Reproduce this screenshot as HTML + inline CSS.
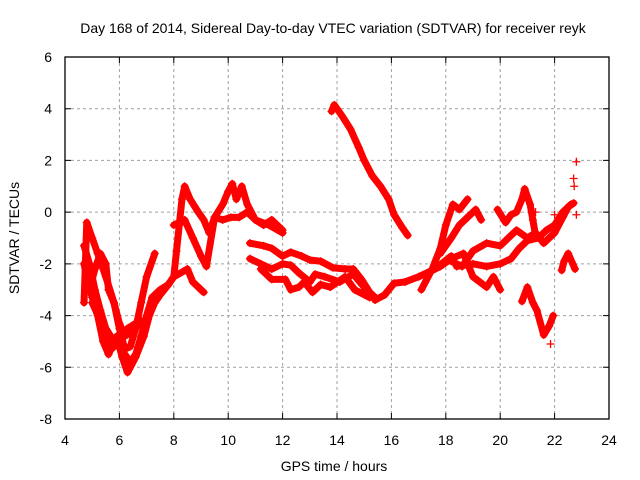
<!DOCTYPE html>
<html><head><meta charset="utf-8"><style>
html,body{margin:0;padding:0;background:#fff;}
svg{display:block;font-family:"Liberation Sans",sans-serif;}
</style></head><body>
<svg id="chart" width="640" height="480" viewBox="0 0 640 480">
<rect x="0" y="0" width="640" height="480" fill="#fff"/>
<text x="333" y="33" font-size="14" text-anchor="middle" fill="#000">Day 168 of 2014, Sidereal Day-to-day VTEC variation (SDTVAR) for receiver reyk</text>
<text x="334" y="471" font-size="14" text-anchor="middle" fill="#000">GPS time / hours</text>
<text transform="translate(19,238) rotate(-90)" font-size="14" text-anchor="middle" fill="#000">SDTVAR / TECUs</text>
<g id="grid"></g>
<g id="ticks"></g>
<g id="series"></g>
<rect x="65" y="57" width="544" height="362" fill="none" stroke="#000" stroke-width="1.3"/>
</svg>
<script>
const xTicks = [4,6,8,10,12,14,16,18,20,22,24];
const yTicks = [-8,-6,-4,-2,0,2,4,6];
const trackA = [[4.7,-1.3],[4.9,-2.0],[5.1,-3.0],[5.3,-3.8],[5.5,-4.5],[5.8,-5.0],[6.0,-5.2],[6.2,-5.5],[6.4,-5.8],[6.6,-5.5],[6.8,-4.8],[7.0,-4.0],[7.2,-3.3],[7.5,-3.0],[7.8,-2.8],[8.0,-2.5],[8.5,-2.2],[8.7,-2.7],[9.1,-3.1]];
const trackB = [[4.7,-3.5],[4.8,-0.4],[5.0,-1.0],[5.2,-1.6],[5.5,-2.5],[5.8,-3.5],[6.0,-4.5],[6.2,-5.3],[6.4,-5.2],[6.6,-4.5],[6.8,-3.5],[7.0,-2.5],[7.3,-1.6]];
const trackC = [[4.8,-2.5],[5.0,-3.3],[5.2,-4.0],[5.4,-5.0],[5.6,-5.5],[5.9,-4.8],[6.1,-5.6],[6.3,-6.2],[6.6,-5.6],[6.9,-4.8],[7.1,-4.0],[7.3,-3.5],[7.5,-3.2],[7.8,-2.8],[8.0,-2.5],[8.1,-1.5],[8.2,-0.5],[8.3,0.5],[8.4,1.0],[8.6,0.5],[8.9,0.0],[9.1,-0.3],[9.3,-0.8],[9.5,-0.2],[9.8,0.3],[10.0,0.8],[10.15,1.1],[10.3,0.5],[10.5,1.0],[10.7,0.3],[11.0,-0.3],[11.5,-0.5],[12.0,-0.8]];
const trackD = [[8.0,-0.5],[8.4,-0.3],[8.7,-1.0],[9.0,-1.7],[9.2,-2.1],[9.5,-0.2],[9.8,-0.3],[10.1,-0.2],[10.4,-0.2],[10.7,0.0],[11.0,-0.3],[11.3,-0.5],[11.6,-0.3],[12.0,-0.7]];
const trackE = [[4.7,-2.0],[4.9,-3.0],[5.1,-2.2],[5.3,-1.6],[5.5,-2.0],[5.6,-3.0],[5.8,-3.5],[6.0,-4.3],[6.2,-4.8],[6.5,-4.6],[6.8,-4.2]];
const trackF = [[5.0,-3.5],[5.3,-4.2],[5.5,-4.8],[5.7,-5.3],[6.0,-5.0],[6.3,-4.5],[6.6,-4.3]];
const bandTop = [[10.8,-1.2],[11.3,-1.3],[11.6,-1.4],[12.0,-1.7],[12.3,-1.55],[12.7,-1.7],[13.0,-1.85],[13.4,-1.9],[13.85,-2.15],[14.3,-2.2],[14.6,-2.2],[14.9,-2.6],[15.2,-3.1],[15.4,-3.4],[15.75,-3.2],[16.1,-2.75],[16.5,-2.7],[17.0,-2.5],[17.6,-2.2],[18.2,-1.7]];
const bandMid = [[10.8,-1.8],[11.2,-2.0],[11.6,-2.2],[12.0,-2.0],[12.3,-2.05],[12.6,-2.35],[13.0,-2.7],[13.2,-2.4],[13.55,-2.5],[14.1,-2.7],[14.6,-2.4],[15.0,-2.9],[15.4,-3.3]];
const bandLow = [[11.2,-2.2],[11.6,-2.6],[12.1,-2.6],[12.3,-3.0],[12.6,-2.9],[12.8,-2.7],[13.1,-3.1],[13.4,-2.8],[13.75,-2.9],[14.3,-2.5],[14.65,-3.0],[15.2,-3.3]];
const trackFall = [[13.8,3.9],[13.9,4.15],[14.2,3.7],[14.5,3.2],[14.8,2.5],[15.0,2.0],[15.3,1.4],[15.6,1.0],[15.9,0.5],[16.1,-0.1],[16.4,-0.6],[16.6,-0.9]];
const trackR1 = [[17.1,-3.0],[17.5,-2.2],[17.8,-1.4],[18.0,-0.5],[18.26,0.3],[18.5,0.1],[18.8,0.5]];
const trackR2 = [[17.8,-1.6],[18.2,-1.0],[18.5,-0.5],[18.8,-0.2],[19.1,0.1],[19.3,-0.3]];
const trackR3 = [[17.6,-2.2],[17.8,-2.1],[18.2,-1.8],[18.65,-1.6],[19.0,-2.5],[19.5,-2.9],[19.75,-2.5],[20.0,-3.0]];
const trackR4 = [[19.9,0.1],[20.2,-0.4],[20.4,-0.1],[20.6,0.0],[20.8,0.5],[20.9,0.9],[21.1,0.3],[21.2,-0.3],[21.3,-0.9]];
const trackR5 = [[18.2,-1.9],[18.6,-2.1],[19.0,-1.5],[19.5,-1.2],[20.0,-1.3],[20.3,-1.0],[20.6,-0.7],[21.0,-1.0],[21.3,-0.8],[21.6,-1.2],[22.0,-0.8],[22.3,-0.2],[22.5,0.2],[22.7,0.35]];
const trackR6 = [[18.4,-2.1],[19.0,-2.0],[19.5,-2.1],[20.0,-2.0],[20.4,-1.8],[20.7,-1.4],[21.0,-1.1],[21.4,-1.0],[21.7,-0.7],[22.0,-0.5],[22.3,0.0],[22.6,0.3]];
const trackR7 = [[20.8,-3.45],[21.0,-2.9],[21.2,-3.5],[21.35,-3.8],[21.6,-4.75],[21.8,-4.4],[21.95,-4.0]];
const trackR8 = [[22.26,-2.25],[22.35,-1.9],[22.5,-1.6],[22.75,-2.2]];
const scatterPts = [[22.8,1.95],[22.7,1.3],[22.72,1.0],[21.85,-5.1],[22.8,-0.1],[22.0,-0.1],[21.3,0.0]];
const tracks = [trackA,trackB,trackC,trackD,trackE,trackF,bandTop,bandMid,bandLow,trackFall,trackR1,trackR2,trackR3,trackR4,trackR5,trackR6,trackR7,trackR8];

const X0=65, X1=609, Y0=419, Y1=57;
function xs(v){return X0+(v-4)/(24-4)*(X1-X0);}
function ys(v){return Y0-(v-(-8))/(6-(-8))*(Y0-Y1);}
const NS="http://www.w3.org/2000/svg";
const grid=document.getElementById('grid'), ticks=document.getElementById('ticks'), series=document.getElementById('series');
function mk(tag,attrs,parent){const e=document.createElementNS(NS,tag);for(const k in attrs)e.setAttribute(k,attrs[k]);parent.appendChild(e);return e;}

xTicks.forEach(t=>{
  const x=xs(t);
  if(t>4&&t<24){const g=mk('line',{x1:x,x2:x,y1:Y1,y2:Y0,stroke:'#a0a0a0','stroke-dasharray':'3,3','stroke-width':1},grid);
  
  }
  const tk=mk('path',{d:`M${x},${Y0}v-6M${x},${Y1}v6`,stroke:'#000','stroke-width':1},ticks);
  
  
  const l=mk('text',{x:x,y:445,'font-size':14,'text-anchor':'middle',fill:'#000'},ticks);
  l.textContent=t;
  
  
});
yTicks.forEach(t=>{
  const y=ys(t);
  if(t>-8&&t<6){const g=mk('line',{x1:X0,x2:X1,y1:y,y2:y,stroke:'#a0a0a0','stroke-dasharray':'3,3','stroke-width':1},grid);
  
  }
  const tk=mk('path',{d:`M${X0},${y}h6M${X1},${y}h-6`,stroke:'#000','stroke-width':1},ticks);
  
  
  const l=mk('text',{x:52,y:y+5,'font-size':14,'text-anchor':'end',fill:'#000'},ticks);
  l.textContent=t;
  
  
});
function plus(v,parent){
  const x=xs(v[0]), y=ys(v[1]);
  const p=mk('path',{d:`M${x-4},${y}h8M${x},${y-4}v8`,stroke:'#f00','stroke-width':1.3},parent);
  
  
}
tracks.forEach(tr=>{
  const g=mk('g',{},series);
  
  
  const pl=mk('polyline',{points:tr.map(v=>xs(v[0])+','+ys(v[1])).join(' '),fill:'none',stroke:'#f00','stroke-width':7,'stroke-linejoin':'round','stroke-linecap':'round'},g);
  
  
  tr.forEach(v=>plus(v,g));
});
scatterPts.forEach(v=>plus(v,series));
</script>
</body></html>
